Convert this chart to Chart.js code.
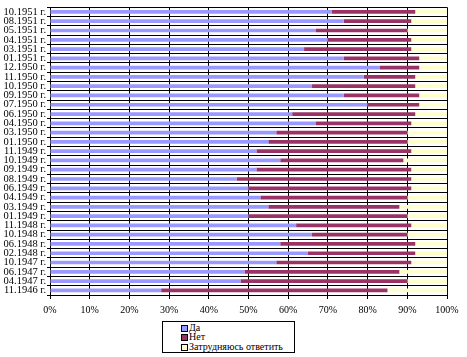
<!DOCTYPE html>
<html>
<head>
<meta charset="utf-8">
<script src="https://cdn.jsdelivr.net/npm/chart.js@4/dist/chart.umd.min.js"></script>
<style>
html,body{margin:0;padding:0;background:#fff;}
#wrap{position:relative;width:467px;height:357px;}
#legend{position:absolute;left:162px;top:321px;width:131px;height:30px;border:1px solid #000;background:#fff;
font-family:"Liberation Serif","Times New Roman",serif;font-size:10px;color:#000;}
.li{position:absolute;left:26px;height:10px;line-height:10px;white-space:nowrap;}
.sw{position:absolute;left:-8px;top:2px;width:5px;height:5px;border:1px solid #000;}
</style>
</head>
<body>
<div id="wrap">
<canvas id="c" width="467" height="357"></canvas>
<div id="legend"></div>
</div>
<script>
const categories = ["10.1951 г.","08.1951 г.","05.1951 г.","04.1951 г.","03.1951 г.","01.1951 г.","12.1950 г.","11.1950 г.","10.1950 г.","09.1950 г.","07.1950 г.","06.1950 г.","04.1950 г.","03.1950 г.","01.1950 г.","11.1949 г.","10.1949 г.","09.1949 г.","08.1949 г.","06.1949 г.","04.1949 г.","03.1949 г.","01.1949 г.","11.1948 г.","10.1948 г.","06.1948 г.","02.1948 г.","10.1947 г.","06.1947 г.","04.1947 г.","11.1946 г."];
const yes =      [71,74,67,70,64,74,83,79,66,74,80,61,67,57,55,52,58,52,47,50,53,55,50,62,66,58,65,57,49,48,28];
const no =       [21,17,23,21,27,19,10,13,26,19,13,31,24,33,35,39,31,39,44,41,37,33,40,29,24,34,27,34,39,42,57];
const unsure =   [ 8, 9,10, 9, 9, 7, 7, 8, 8, 7, 7, 8, 9,10,10, 9,11, 9, 9, 9,10,12,10, 9,10, 8, 8, 9,12,10,15];
const seriesNames = ["Да","Нет","Затрудняюсь ответить"];
const seriesColors = ["#9999FF","#993366","#FFFFCC"];
const xTicks = ["0%","10%","20%","30%","40%","50%","60%","70%","80%","90%","100%"];

const font = {family:"'Liberation Serif','Times New Roman',serif", size:10.5};
const data = {
  labels: categories,
  datasets: [yes, no, unsure].map((d,i)=>({
    label: seriesNames[i], data: d, backgroundColor: seriesColors[i],
    borderWidth: 0, barPercentage: 1, categoryPercentage: 0.4
  }))
};
new Chart(document.getElementById('c'), {
  type: 'bar',
  data,
  options: {
    indexAxis: 'y',
    responsive: false,
    animation: false,
    devicePixelRatio: 1,
    layout: {padding: {top: 5, right: 20, bottom: 38, left: 0}},
    plugins: {legend: {display: false}, tooltip: {enabled: false}},
    scales: {
      x: {
        stacked: true, min: 0, max: 100,
        ticks: {stepSize: 10, color: '#000', font: {family: font.family, size: 10}, padding: 5, maxRotation: 0,
          callback: (v, i) => xTicks[i]},
        grid: {color: '#000', lineWidth: 1, tickLength: 4, drawTicks: true},
        border: {color: '#000', width: 1},
        afterFit: s => { s.height = 24; }
      },
      y: {
        stacked: true,
        ticks: {color: '#000', font, padding: 1, autoSkip: false},
        grid: {color: '#000', lineWidth: 1, tickLength: 3, offset: true},
        border: {color: '#000', width: 1},
        afterFit: s => { s.width = 50; }
      }
    }
  }
});
const lg = document.getElementById('legend');
seriesNames.forEach((n,i)=>{
  const d = document.createElement('div');
  d.className = 'li';
  d.style.top = (1 + i*9.3) + 'px';
  d.innerHTML = '<span class="sw" style="background:'+seriesColors[i]+'"></span>' + n;
  lg.appendChild(d);
});
</script>
</body>
</html>
